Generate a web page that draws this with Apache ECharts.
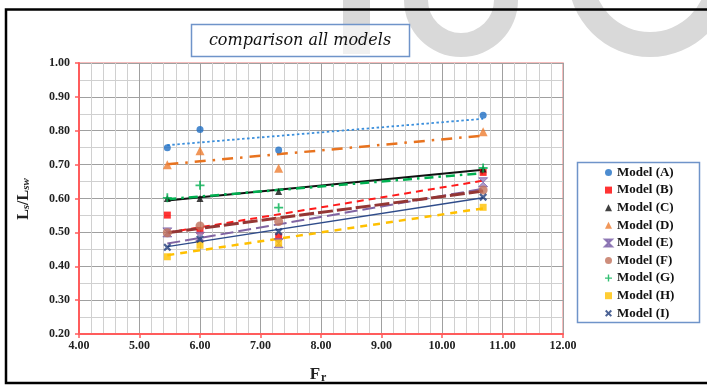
<!DOCTYPE html>
<html>
<head>
<meta charset="utf-8">
<script src="https://cdn.jsdelivr.net/npm/echarts@6/dist/echarts.min.js"></script>
<style>
html,body{margin:0;padding:0;background:#fff;}
#chart{width:707px;height:387px;}
</style>
</head>
<body>
<div id="chart"></div>
<script>
// ---- data ----
const frValues = [5.46, 6.00, 7.30, 10.68];
const modelNames = ['Model (A)','Model (B)','Model (C)','Model (D)','Model (E)','Model (F)','Model (G)','Model (H)','Model (I)'];
const modelA = [0.750, 0.804, 0.743, 0.846];
const modelB = [0.551, 0.505, 0.487, 0.677];
const modelC = [0.600, 0.600, 0.621, 0.687];
const modelD = [0.700, 0.741, 0.689, 0.797];
const modelE = [0.500, 0.487, 0.468, 0.648];
const modelF = [0.499, 0.519, 0.532, 0.625];
const modelG = [0.602, 0.639, 0.573, 0.690];
const modelH = [0.428, 0.462, 0.468, 0.574];
const modelI = [0.456, 0.480, 0.502, 0.604];
const xTicks = [4, 5, 6, 7, 8, 9, 10, 11, 12];
const yTicks = [0.2, 0.3, 0.4, 0.5, 0.6, 0.7, 0.8, 0.9, 1.0];

const allModels = [modelA, modelB, modelC, modelD, modelE, modelF, modelG, modelH, modelI];

// ---- styles ----
const SERIF = '"Liberation Serif", "DejaVu Serif", serif';
const markerStyles = [
  {symbol:'circle', size:7, color:'#1f6fc4'},
  {symbol:'rect', size:7, color:'#ff0000'},
  {symbol:'triangle', size:7, color:'#111111'},
  {symbol:'triangle', size:9, color:'#ed7d31'},
  {symbol:'path://M0,0L10,0L0,10L10,10Z', size:9, color:'#9a85c0', border:'#7a60a8'},
  {symbol:'circle', size:9, color:'#c0705a'},
  {symbol:'path://M4,0H6V4H10V6H6V10H4V6H0V4H4Z', size:9, color:'#00b050'},
  {symbol:'rect', size:7, color:'#ffc000'},
  {symbol:'path://M0,2L2,0L5,3L8,0L10,2L7,5L10,8L8,10L5,7L2,10L0,8L3,5Z', size:8, color:'#1f3c7a'}
];
const trendStyles = [
  {color:'#3b8fdc', width:1.8, type:[2.5,2.5]},
  {color:'#ff1a1a', width:2, type:[7,5]},
  {color:'#111111', width:2, type:'solid'},
  {color:'#e8731f', width:2.5, type:[11,7,2.5,7]},
  {color:'#8064a2', width:2, type:[13,5]},
  {color:'#943634', width:3, type:[15,4]},
  {color:'#00b050', width:2.5, type:[9,5,2.5,5]},
  {color:'#ffc000', width:2.5, type:[7,6]},
  {color:'#2f4c8a', width:1.5, type:'solid'}
];

function trend(ys){
  const n = frValues.length;
  const mx = frValues.reduce((a,b)=>a+b,0)/n;
  const my = ys.reduce((a,b)=>a+b,0)/n;
  let sxy=0, sxx=0;
  for(let i=0;i<n;i++){ sxy+=(frValues[i]-mx)*(ys[i]-my); sxx+=(frValues[i]-mx)**2; }
  const b = sxy/sxx, a = my - b*mx;
  const x0 = Math.min(...frValues), x1 = Math.max(...frValues);
  return [[x0, a+b*x0],[x1, a+b*x1]];
}

const series = [];
allModels.forEach((ys, i) => {
  series.push({
    name: modelNames[i] + ' trend', type:'line', data: trend(ys), symbol:'none', silent:true,
    lineStyle: {color: trendStyles[i].color, width: trendStyles[i].width, type: trendStyles[i].type},
    z: 2
  });
});
allModels.forEach((ys, i) => {
  const m = markerStyles[i];
  series.push({
    name: modelNames[i], type:'scatter', data: ys.map((y,k)=>[frValues[k], y]),
    symbol: m.symbol, symbolSize: m.size,
    itemStyle: {color: m.color, borderColor: m.border || m.color, borderWidth: m.border ? 1 : 0},
    z: 3
  });
});

const chart = echarts.init(document.getElementById('chart'), null, {renderer:'canvas'});
chart.setOption({
  animation:false,
  backgroundColor:'#ffffff',
  grid:{left:79, right:144, top:63, bottom:53, show:true, borderColor:'#f4a6a6', borderWidth:1.5, backgroundColor:'#ffffff'},
  xAxis:{
    type:'value', min:xTicks[0], max:xTicks[xTicks.length-1], interval:1,
    axisLine:{show:true, onZero:false, lineStyle:{color:'#ff5c5c', width:2}},
    axisTick:{show:true, length:4, lineStyle:{color:'#ff5c5c', width:1.5}},
    axisLabel:{formatter:v=>v.toFixed(2), fontFamily:SERIF, fontWeight:'bold', fontSize:12, color:'#222', margin:6},
    splitLine:{show:true, lineStyle:{color:'#a0a0a0', width:1}},
    minorSplitLine:{show:true, lineStyle:{color:'#d0d0d0', width:1}},
    minorTick:{show:false, splitNumber:5}
  },
  yAxis:{
    type:'value', min:yTicks[0], max:yTicks[yTicks.length-1], interval:0.1,
    axisLine:{show:true, onZero:false, lineStyle:{color:'#ff5c5c', width:2}},
    axisTick:{show:true, length:4, lineStyle:{color:'#ff5c5c', width:1.5}},
    axisLabel:{formatter:v=>v.toFixed(2), fontFamily:SERIF, fontWeight:'bold', fontSize:12, color:'#222', margin:9},
    splitLine:{show:true, lineStyle:{color:'#a0a0a0', width:1}},
    minorSplitLine:{show:true, lineStyle:{color:'#d0d0d0', width:1}},
    minorTick:{show:false, splitNumber:2}
  },
  legend:{
    orient:'vertical', left:604, top:166,
    data: modelNames.map((n,i)=>({name:n, icon: markerStyles[i].symbol})),
    itemWidth:7, itemHeight:7, itemGap:4.6,
    textStyle:{fontFamily:SERIF, fontWeight:'bold', fontSize:13, color:'#111', lineHeight:13},
    padding:0
  },
  graphic:[
    {type:'rect', z:-10, shape:{x:343, y:0, width:27, height:54}, style:{fill:'#d9d9d9'}},
    {type:'ring', z:-10, shape:{cx:461, cy:0, r:57, r0:33}, style:{fill:'#d9d9d9'}},
    {type:'ring', z:-10, shape:{cx:650, cy:-25, r:82, r0:57}, style:{fill:'#d9d9d9'}},
    {type:'rect', z:100, shape:{x:6, y:9.5, width:720, height:373.5}, style:{fill:'none', stroke:'#000', lineWidth:2.5}},
    {type:'rect', z:10, shape:{x:191.5, y:24.5, width:218, height:32}, style:{fill:'rgba(255,255,255,0.6)', stroke:'#6f94c9', lineWidth:1.5}},
    {type:'text', z:11, x:300, y:41, style:{text:'comparison all models', font:'italic 16px "DejaVu Serif", serif', fill:'#111', align:'center', verticalAlign:'middle'}},
    {type:'rect', z:10, shape:{x:577.5, y:162.5, width:122, height:160}, style:{fill:'none', stroke:'#6f94c9', lineWidth:1.5}},
    {type:'text', z:11, x:318, y:375, style:{
      text:'{a|F}{b|r}', align:'center', verticalAlign:'middle',
      rich:{a:{fontFamily:SERIF, fontWeight:'bold', fontSize:17, fill:'#222'}, b:{fontFamily:SERIF, fontWeight:'bold', fontSize:12, fill:'#222', padding:[5,0,0,1]}}
    }},
    {type:'text', z:11, x:24, y:199, rotation:Math.PI/2, style:{
      text:'{a|L}{b|s}{a|/L}{b|sw}', align:'center', verticalAlign:'middle',
      rich:{a:{fontFamily:SERIF, fontWeight:'bold', fontSize:16, fill:'#222'}, b:{fontFamily:SERIF, fontWeight:'bold', fontStyle:'italic', fontSize:11, fill:'#222', padding:[4,0,0,0]}}
    }}
  ],
  series: series
});
</script>
</body>
</html>
